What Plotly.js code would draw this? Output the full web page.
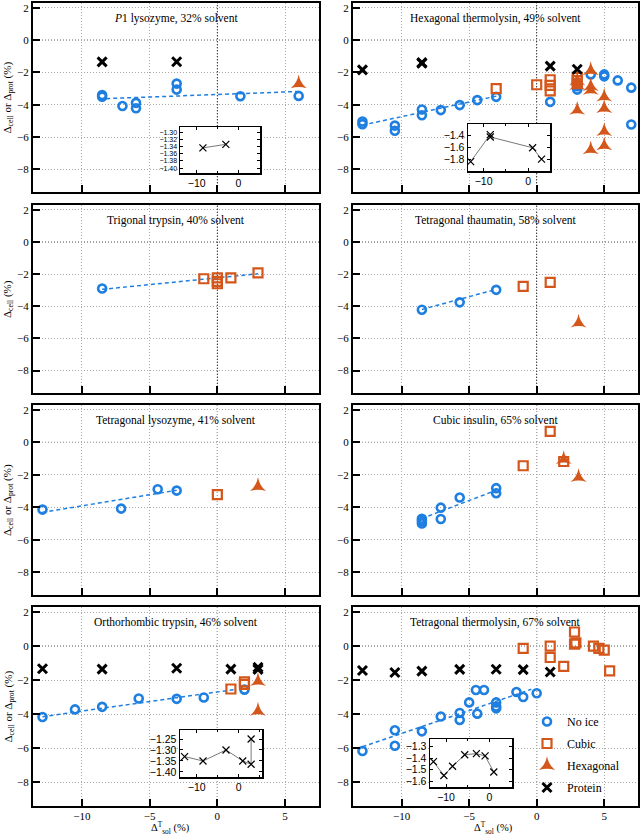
<!DOCTYPE html>
<html><head><meta charset="utf-8">
<script src="https://cdn.plot.ly/plotly-3.0.1.min.js"></script>
<style>html,body{margin:0;padding:0;background:#fff}</style>
</head><body><div id="chart" style="width:640px;height:837px"></div>
<script>
// ---------------- DATA ----------------
const panelTitles = [
  "<i>P</i>1 lysozyme, 32% solvent",
  "Hexagonal thermolysin, 49% solvent",
  "Trigonal trypsin, 40% solvent",
  "Tetragonal thaumatin, 58% solvent",
  "Tetragonal lysozyme, 41% solvent",
  "Cubic insulin, 65% solvent",
  "Orthorhombic trypsin, 46% solvent",
  "Tetragonal thermolysin, 67% solvent"
];
const legendNames = ["No ice", "Cubic", "Hexagonal", "Protein"];
const xTicks = [-10, -5, 0, 5];
const yTicks = [2, 0, -2, -4, -6, -8];

// Panel 1: P1 lysozyme
const p1NoIceX = [-8.5, -8.5, -7.0, -6.0, -6.0, -3.0, -3.0, 1.7, 6.0];
const p1NoIceY = [-3.40, -3.50, -4.08, -3.88, -4.22, -2.69, -3.06, -3.47, -3.45];
const p1HexX = [6.0];
const p1HexY = [-2.70];
const p1ProtX = [-8.5, -3.0];
const p1ProtY = [-1.343, -1.333];
const p1FitX = [-8.2, 5.9];
const p1FitY = [-3.62, -3.18];

// Panel 2: Hexagonal thermolysin
const p2NoIceX = [-12.9, -12.9, -10.5, -10.5, -8.5, -8.5, -7.1, -5.7, -4.4, -3.0, 1.0, 3.0, 3.0, 3.0, 4.0, 5.0, 5.0, 6.0, 7.0, 7.0];
const p2NoIceY = [-5.04, -5.20, -5.29, -5.61, -4.29, -4.65, -4.33, -4.02, -3.71, -3.51, -3.82, -2.65, -2.85, -3.06, -2.12, -2.12, -2.24, -2.49, -2.94, -5.22];
const p2CubicX = [-3.0, 0.0, 1.0, 1.0, 1.0, 3.0, 3.0, 3.0];
const p2CubicY = [-3.00, -2.76, -2.45, -2.80, -3.14, -2.30, -2.50, -2.70];
const p2HexX = [3.0, 3.0, 3.0, 4.0, 4.0, 4.0, 5.0, 5.0, 5.0, 5.0, 4.0];
const p2HexY = [-2.50, -2.80, -4.33, -1.88, -2.86, -3.10, -3.51, -4.22, -5.65, -6.53, -6.78];
const p2ProtX = [-12.9, -8.5, -8.5, 1.0, 3.0];
const p2ProtY = [-1.84, -1.39, -1.43, -1.61, -1.80];
const p2FitX = [-12.9, -2.9];
const p2FitY = [-5.26, -3.45];

// Panel 3: Trigonal trypsin
const p3NoIceX = [-8.5];
const p3NoIceY = [-2.90];
const p3CubicX = [-1.0, 0.0, 0.0, 0.0, 1.0, 3.0];
const p3CubicY = [-2.29, -2.24, -2.45, -2.60, -2.24, -1.92];
const p3FitX = [-8.5, 3.0];
const p3FitY = [-2.95, -1.98];

// Panel 4: Tetragonal thaumatin
const p4NoIceX = [-8.5, -5.7, -3.0];
const p4NoIceY = [-4.22, -3.76, -2.98];
const p4CubicX = [-1.0, 1.0];
const p4CubicY = [-2.76, -2.51];
const p4HexX = [3.1];
const p4HexY = [-5.04];
const p4FitX = [-8.5, -3.0];
const p4FitY = [-4.20, -2.95];

// Panel 5: Tetragonal lysozyme
const p5NoIceX = [-12.9, -7.1, -4.4, -3.0];
const p5NoIceY = [-4.14, -4.08, -2.89, -2.97];
const p5CubicX = [0.0];
const p5CubicY = [-3.22];
const p5HexX = [3.0];
const p5HexY = [-2.72];
const p5FitX = [-12.9, -3.0];
const p5FitY = [-4.31, -2.95];

// Panel 6: Cubic insulin
const p6NoIceX = [-8.5, -8.5, -8.5, -7.1, -7.1, -5.7, -3.0, -3.0];
const p6NoIceY = [-4.70, -4.85, -5.00, -4.02, -4.72, -3.40, -2.82, -3.13];
const p6CubicX = [-1.0, 1.0, 2.0];
const p6CubicY = [-1.44, 0.68, -1.18];
const p6HexX = [2.0, 3.1];
const p6HexY = [-1.05, -2.16];
const p6FitX = [-8.5, -3.0];
const p6FitY = [-4.69, -2.95];

// Panel 7: Orthorhombic trypsin
const p7NoIceX = [-12.9, -10.5, -8.5, -5.8, -3.0, -1.0, 2.0];
const p7NoIceY = [-4.17, -3.72, -3.57, -3.08, -3.10, -3.02, -2.56];
const p7CubicX = [1.0, 2.0, 2.0];
const p7CubicY = [-2.52, -2.10, -2.25];
const p7HexX = [3.0, 3.0];
const p7HexY = [-2.07, -3.82];
const p7ProtX = [-12.9, -8.5, -3.0, 1.0, 3.0, 3.0];
const p7ProtY = [-1.33, -1.35, -1.30, -1.35, -1.365, -1.25];
const p7FitX = [-12.9, 1.2];
const p7FitY = [-4.15, -2.56];

// Panel 8: Tetragonal thermolysin
const p8NoIceX = [-12.9, -10.5, -10.5, -8.5, -7.1, -5.7, -5.7, -5.0, -4.5, -4.4, -3.9, -3.0, -3.0, -3.0, -1.5, -1.0, 0.0];
const p8NoIceY = [-6.17, -4.95, -5.86, -5.01, -4.14, -3.93, -4.34, -3.31, -2.58, -3.97, -2.58, -3.31, -3.55, -3.66, -2.70, -2.99, -2.77];
const p8CubicX = [-1.0, 1.0, 1.0, 2.0, 2.8, 2.8, 2.9, 4.2, 4.6, 5.0, 5.4];
const p8CubicY = [-0.13, 0.00, -0.67, -1.19, 0.83, 0.12, 0.19, 0.00, -0.13, -0.23, -1.45];
const p8ProtX = [-12.9, -10.5, -8.5, -5.7, -3.0, -1.0, 1.0];
const p8ProtY = [-1.43, -1.55, -1.47, -1.37, -1.36, -1.38, -1.52];
const p8FitX = [-12.9, -0.4];
const p8FitY = [-5.92, -2.54];

// ---------------- STYLE / LAYOUT ----------------
const BLUE = '#1E7FE0', ORANGE = '#D4561A';
const SERIF = 'Liberation Serif, Times New Roman, serif';
const SANS = 'Liberation Sans, Arial, sans-serif';
const W = 640, H = 837;

const panels = [
  {noIce:[p1NoIceX,p1NoIceY], hex:[p1HexX,p1HexY], prot:[p1ProtX,p1ProtY], fit:[p1FitX,p1FitY]},
  {noIce:[p2NoIceX,p2NoIceY], cubic:[p2CubicX,p2CubicY], hex:[p2HexX,p2HexY], prot:[p2ProtX,p2ProtY], fit:[p2FitX,p2FitY]},
  {noIce:[p3NoIceX,p3NoIceY], cubic:[p3CubicX,p3CubicY], fit:[p3FitX,p3FitY]},
  {noIce:[p4NoIceX,p4NoIceY], cubic:[p4CubicX,p4CubicY], hex:[p4HexX,p4HexY], fit:[p4FitX,p4FitY]},
  {noIce:[p5NoIceX,p5NoIceY], cubic:[p5CubicX,p5CubicY], hex:[p5HexX,p5HexY], fit:[p5FitX,p5FitY]},
  {noIce:[p6NoIceX,p6NoIceY], cubic:[p6CubicX,p6CubicY], hex:[p6HexX,p6HexY], fit:[p6FitX,p6FitY]},
  {noIce:[p7NoIceX,p7NoIceY], cubic:[p7CubicX,p7CubicY], hex:[p7HexX,p7HexY], prot:[p7ProtX,p7ProtY], fit:[p7FitX,p7FitY]},
  {noIce:[p8NoIceX,p8NoIceY], cubic:[p8CubicX,p8CubicY], prot:[p8ProtX,p8ProtY], fit:[p8FitX,p8FitY]}
];

// pixel boxes (left,right) & (top,bottom)
const colPx = [[33, 319], [353, 638]];
const rowPx = [[3, 192], [205, 393], [405, 595], [607, 806]];
const xd = c => [colPx[c][0]/W, colPx[c][1]/W];
const yd = r => [1 - rowPx[r][1]/H, 1 - rowPx[r][0]/H];

const traces = [];
const layout = {
  width: W, height: H,
  margin: {l:0, r:0, t:0, b:0},
  paper_bgcolor: '#fff', plot_bgcolor: '#fff',
  font: {family: SERIF, size: 11, color: '#000'},
  showlegend: true,
  legend: {x: 527/W, y: 1 - 707/H, xanchor: 'left', yanchor: 'top',
           bgcolor: 'rgba(255,255,255,0)', font: {family: SERIF, size: 12},
           traceorder: 'grouped', tracegroupgap: 3},
  shapes: [], annotations: []
};

panels.forEach((p, i) => {
  const n = i + 1, c = i % 2, r = Math.floor(i / 2);
  const xa = 'x' + (n === 1 ? '' : n), ya = 'y' + (n === 1 ? '' : n);
  const isLast = (n === 8), isHexLegend = (n === 7);
  traces.push({x: p.fit[0], y: p.fit[1], xaxis: xa, yaxis: ya, mode: 'lines',
    line: {color: BLUE, width: 1.5, dash: '4px,3px'}, showlegend: false, hoverinfo: 'skip'});
  traces.push({x: p.noIce[0], y: p.noIce[1], xaxis: xa, yaxis: ya, mode: 'markers',
    name: legendNames[0], legendgroup: 'a', legendrank: 1, showlegend: isLast,
    marker: {symbol: 'circle-open', size: 8, color: BLUE, line: {width: 2.6, color: BLUE}}});
  if (p.cubic) traces.push({x: p.cubic[0], y: p.cubic[1], xaxis: xa, yaxis: ya, mode: 'markers',
    name: legendNames[1], legendgroup: 'b', legendrank: 2, showlegend: isLast,
    marker: {symbol: 'square-open', size: 9, color: ORANGE, line: {width: 2.2, color: ORANGE}}});
  if (p.hex) traces.push({x: p.hex[0], y: p.hex[1], xaxis: xa, yaxis: ya, mode: 'markers',
    name: legendNames[2], legendgroup: 'c', legendrank: 3, showlegend: isHexLegend,
    marker: {symbol: 'star-triangle-up', size: 11.5, color: ORANGE, line: {width: 0}}});
  if (p.prot) traces.push({x: p.prot[0], y: p.prot[1], xaxis: xa, yaxis: ya, mode: 'markers',
    name: legendNames[3], legendgroup: 'd', legendrank: 4, showlegend: isLast,
    marker: {symbol: 'x-thin-open', size: 9, color: '#000', line: {width: 3, color: '#000'}}});

  const common = {ticks: 'inside', ticklen: 7, tickwidth: 2, tickcolor: '#000',
    showline: true, linewidth: 2, linecolor: '#000', mirror: true,
    showgrid: true, gridcolor: '#a8a8a8', griddash: '1px,2px', gridwidth: 1,
    zeroline: false, tickfont: {family: SERIF, size: 11}, fixedrange: true};
  layout['xaxis' + (n === 1 ? '' : n)] = Object.assign({}, common, {
    domain: xd(c), range: [-13.6, 7.5], anchor: ya, tickmode: 'array', tickvals: xTicks,
    showticklabels: r === 3, ticklabelstandoff: -1});
  layout['yaxis' + (n === 1 ? '' : n)] = Object.assign({}, common, {
    domain: yd(r), range: [-9.4, 2.3], anchor: xa, tickmode: 'array', tickvals: yTicks,
    showticklabels: true});

  // dotted zero lines
  layout.shapes.push({type: 'line', xref: xa, yref: ya + ' domain', x0: 0, x1: 0, y0: 0, y1: 1,
    line: {color: '#222', width: 1, dash: '1px,2px'}, layer: 'below'});
  layout.shapes.push({type: 'line', xref: xa + ' domain', yref: ya, x0: 0, x1: 1, y0: 0, y1: 0,
    line: {color: '#222', width: 1, dash: '1px,2px'}, layer: 'below'});

  // panel title
  layout.annotations.push({text: panelTitles[i], xref: xa + ' domain', yref: ya + ' domain',
    x: 0.5, y: 0.92, xanchor: 'center', yanchor: 'middle', showarrow: false,
    font: {family: SERIF, size: 11.5}});
  // y titles (left column)
  if (c === 0) {
    layout.annotations.push({text: r === 1 ? 'Δ<sub>cell</sub> (%)' : 'Δ<sub>cell</sub> or Δ<sub>prot</sub> (%)',
      xref: 'paper', yref: ya + ' domain', x: 8/W, y: 0.5, xanchor: 'center', yanchor: 'middle',
      textangle: -90, showarrow: false, font: {family: SERIF, size: 11}});
  }
  if (r === 3) {
    layout.annotations.push({text: 'Δ<sup>T</sup><sub>sol</sub> (%)', xref: 'paper', yref: 'paper',
      x: (c === 0 ? 170 : 493)/W, y: 0, xanchor: 'center', yanchor: 'bottom', borderpad: 0,
      showarrow: false, font: {family: SERIF, size: 10.5}});
  }
});

// ---------------- INSETS (protein values) ----------------
const insets = [
  {px: [180, 260, 127, 173], xr: [-14, 5.2], yr: [-1.414, -1.284], dt: 0.02, fmt: '.2f', fs: 7, d: [p1ProtX, p1ProtY]},
  {px: [468, 550, 124, 171], xr: [-13.5, 4.9], yr: [-1.997, -1.214], dt: 0.2, fmt: '.1f', fs: 10.5, d: [p2ProtX, p2ProtY]},
  {px: [180, 262, 730, 777], xr: [-14, 5.6], yr: [-1.423, -1.209], dt: 0.05, fmt: '.2f', fs: 10.5, d: [p7ProtX, p7ProtY]},
  {px: [430, 512, 739, 787], xr: [-13.7, 5.2], yr: [-1.65, -1.233], dt: 0.1, fmt: '.1f', fs: 10.5, d: [p8ProtX, p8ProtY]}
];
insets.forEach((s, k) => {
  const n = 9 + k;
  traces.push({x: s.d[0], y: s.d[1], xaxis: 'x' + n, yaxis: 'y' + n, mode: 'lines+markers',
    showlegend: false, line: {color: '#555', width: 0.8},
    marker: {symbol: 'x-thin-open', size: 7, color: '#000', line: {width: 1.2, color: '#000'}}});
  const ic = {ticks: 'inside', ticklen: 3, tickwidth: 1, tickcolor: '#000', showline: true,
    linewidth: 1.5, linecolor: '#000', mirror: 'allticks', showgrid: false, zeroline: false,
    tickfont: {family: SANS, size: 10.5}, fixedrange: true};
  layout['xaxis' + n] = Object.assign({}, ic, {domain: [s.px[0]/W, s.px[1]/W], range: s.xr,
    anchor: 'y' + n, tickmode: 'array', tickvals: [-10, 0], minor: {dtick: 5, ticks: 'inside', ticklen: 2}});
  layout['yaxis' + n] = Object.assign({}, ic, {domain: [1 - s.px[3]/H, 1 - s.px[2]/H], range: s.yr,
    anchor: 'x' + n, dtick: s.dt, tick0: 0, tickformat: s.fmt, tickfont: {family: SANS, size: s.fs}});
});

Plotly.newPlot('chart', traces, layout, {staticPlot: true, displayModeBar: false});
</script>
</body></html>
